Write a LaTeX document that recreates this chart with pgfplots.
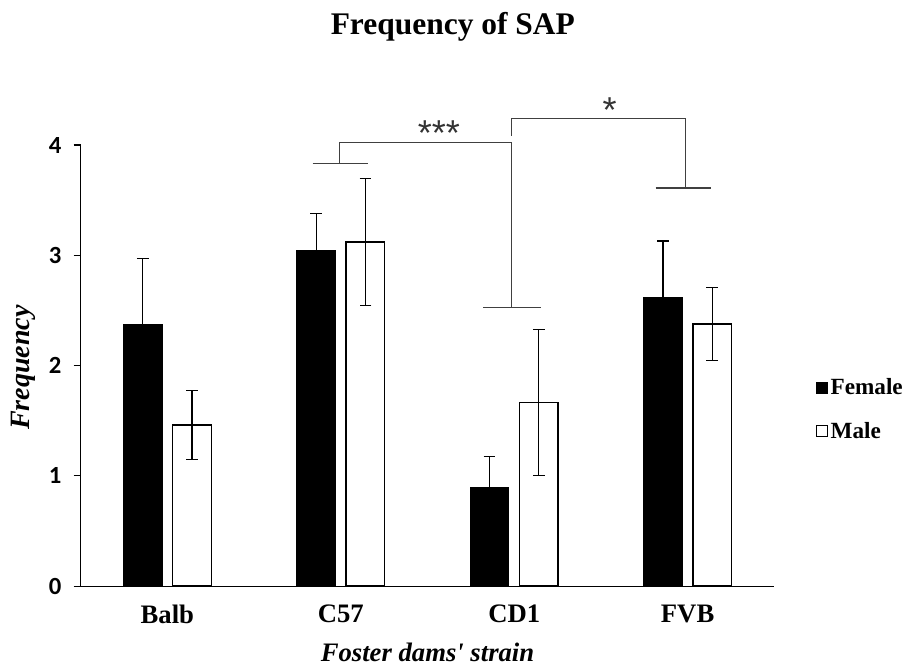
\documentclass[border=0pt]{standalone}
\usepackage{fontspec}
\setmainfont{Liberation Serif}
\newfontfamily\calibri{Carlito}[BoldFont={* Bold}]
\newfontfamily\arialfont{Liberation Sans}
\usepackage{pgfplots}
\pgfplotsset{compat=1.18}
\definecolor{brk}{HTML}{404040}

\begin{document}
\begin{tikzpicture}
\useasboundingbox (-60.5pt,-61.5pt) rectangle (624.2pt,439.5pt);
\begin{axis}[
    at={(0pt,0pt)}, anchor=south west,
    scale only axis,
    width=520.2pt, height=330.75pt,
    ybar=8pt, bar width=28.9pt,
    xmin=-0.5, xmax=3.5, ymin=0, ymax=4,
    xtick={0,1,2,3}, xticklabels={Balb,C57,CD1,FVB},
    ytick={0,1,2,3,4},
    yticklabels={0,1,2,3,4},
    axis x line*=bottom, axis y line*=left,
    axis line style={black, line width=0.8pt},
    x tick style={draw=none},
    y tick style={black, line width=0.8pt},
    tick align=outside, major tick length=5.25pt,
    yticklabel style={font=\calibri\bfseries\fontsize{18.5}{22}\selectfont, inner sep=0pt, xshift=-9pt},
    xticklabel style={font=\bfseries\fontsize{20}{24}\selectfont, inner sep=0pt, yshift=-9pt},
    xlabel={Foster dams\textquotesingle\ strain},
    ylabel={Frequency},
    xlabel style={font=\bfseries\itshape\fontsize{20}{24}\selectfont, at={(axis description cs:0.5,-0.1497)}, anchor=center},
    ylabel style={font=\bfseries\itshape\fontsize{21}{25}\selectfont, at={(axis description cs:-0.0828,0.4955)}, anchor=center},
    clip=false,
    legend style={at={(axis description cs:1.06,0.4)}, anchor=west, draw=none, fill=none,
        font=\bfseries\fontsize{17.4}{20}\selectfont, row sep=15pt, inner sep=0pt},
    legend cell align={left},
    legend image code/.code={\draw[#1, line width=0.6pt] (0pt,-4.1pt) rectangle (8.2pt,4.1pt);},
]
\addplot[fill=black, draw=black, line width=0.8pt,
    error bars/.cd, y dir=both, y explicit,
    error bar style={line width=1pt, black},
    error mark options={rotate=90, line width=1pt, mark size=4.4pt, black}]
    coordinates {(0,2.37) +- (0,0.60) (1,3.04) +- (0,0.34) (2,0.89) +- (0,0.285) (3,2.62) +- (0,0.51)};
\addlegendentry{Female}
\addplot[fill=white, draw=black, line width=1pt,
    error bars/.cd, y dir=both, y explicit,
    error bar style={line width=1pt, black},
    error mark options={rotate=90, line width=1pt, mark size=4.4pt, black}]
    coordinates {(0,1.46) +- (0,0.313) (1,3.12) +- (0,0.576) (2,1.666) +- (0,0.662) (3,2.376) +- (0,0.33)};
\addlegendentry{Male}

% significance brackets
\draw[brk, line width=0.8pt] (axis cs:0.838,3.834) -- (axis cs:1.155,3.834);
\draw[brk, line width=0.8pt] (axis cs:0.991,3.834) |- (axis cs:1.987,4.021) -- (axis cs:1.987,2.528);
\draw[brk, line width=0.8pt] (axis cs:1.822,2.528) -- (axis cs:2.153,2.528);
\draw[brk, line width=0.8pt] (axis cs:1.982,4.082) |- (axis cs:2.987,4.239) -- (axis cs:2.987,3.61);
\draw[brk, line width=0.8pt] (axis cs:2.816,3.61) -- (axis cs:3.133,3.61);
\node[anchor=base, font=\arialfont\fontsize{27}{30}\selectfont, text=brk!80!black, inner sep=0pt] at (axis cs:1.565,3.995) {***};
\node[anchor=base, font=\arialfont\fontsize{27}{30}\selectfont, text=brk!80!black, inner sep=0pt] at (axis cs:2.55,4.2) {*};
\end{axis}
\node[anchor=base, font=\bfseries\fontsize{23.6}{28}\selectfont, inner sep=0pt] at (279.1pt,413.8pt) {Frequency of SAP};
\end{tikzpicture}
\end{document}
